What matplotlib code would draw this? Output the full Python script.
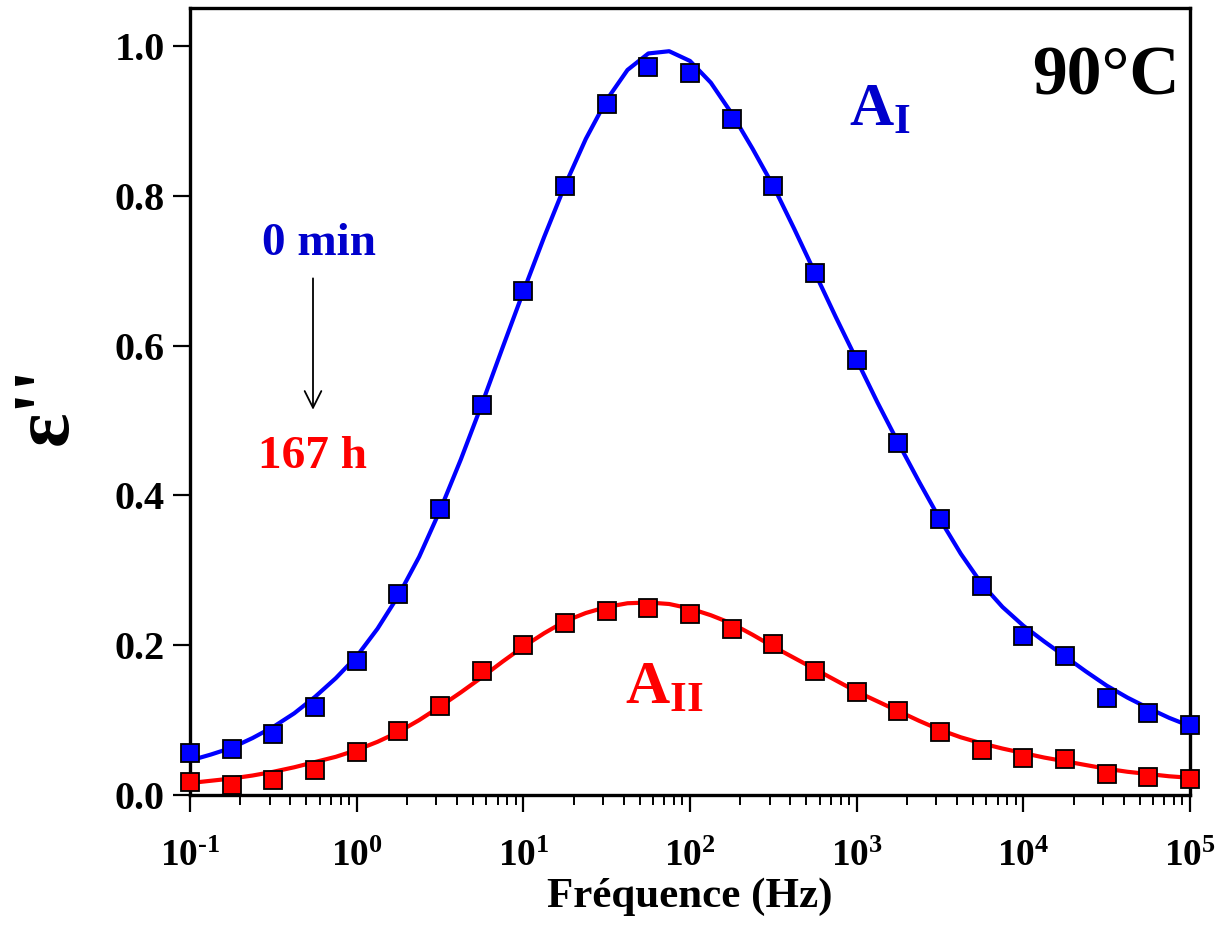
import numpy as np
import matplotlib
matplotlib.use("Agg")
import matplotlib.pyplot as plt

plt.rcParams['font.family'] = ['Liberation Serif', 'DejaVu Serif']
plt.rcParams['font.weight'] = 'bold'
plt.rcParams['mathtext.fontset'] = 'custom'
plt.rcParams['mathtext.rm'] = 'Liberation Serif:bold'
plt.rcParams['mathtext.it'] = 'Liberation Serif:bold'
plt.rcParams['mathtext.bf'] = 'Liberation Serif:bold'

# ---- data: measured points (quarter-decade frequencies) ----
log_freq_pts = [-1.0, -0.75, -0.5, -0.25, 0.0, 0.25, 0.5, 0.75, 1.0, 1.25, 1.5, 1.75, 2.0,
                2.25, 2.5, 2.75, 3.0, 3.25, 3.5, 3.75, 4.0, 4.25, 4.5, 4.75, 5.0]
eps_0min = [0.056, 0.061, 0.081, 0.118, 0.179, 0.268, 0.382, 0.521, 0.673, 0.813, 0.923, 0.972, 0.964,
            0.903, 0.813, 0.697, 0.581, 0.470, 0.368, 0.279, 0.212, 0.186, 0.130, 0.110, 0.094]
eps_167h = [0.018, 0.013, 0.020, 0.033, 0.058, 0.086, 0.119, 0.165, 0.200, 0.229, 0.246, 0.250, 0.241,
            0.222, 0.202, 0.165, 0.137, 0.112, 0.084, 0.060, 0.049, 0.048, 0.028, 0.024, 0.022]

# ---- fitted curves (eighth-decade) ----
log_freq_fit = [-1.0, -0.875, -0.75, -0.625, -0.5, -0.375, -0.25, -0.125, 0.0, 0.125, 0.25, 0.375,
                0.5, 0.625, 0.75, 0.875, 1.0, 1.125, 1.25, 1.375, 1.5, 1.625, 1.75, 1.875,
                2.0, 2.125, 2.25, 2.375, 2.5, 2.625, 2.75, 2.875, 3.0, 3.125, 3.25, 3.375,
                3.5, 3.625, 3.75, 3.875, 4.0, 4.125, 4.25, 4.375, 4.5, 4.625, 4.75, 4.875, 5.0]
fit_0min = [0.046, 0.054, 0.063, 0.076, 0.091, 0.109, 0.131, 0.156, 0.185, 0.222, 0.266, 0.318,
            0.380, 0.448, 0.521, 0.597, 0.672, 0.745, 0.814, 0.876, 0.928, 0.968, 0.990, 0.993,
            0.980, 0.951, 0.910, 0.863, 0.813, 0.756, 0.697, 0.638, 0.581, 0.524, 0.470, 0.418,
            0.368, 0.322, 0.282, 0.251, 0.226, 0.205, 0.185, 0.165, 0.146, 0.130, 0.116, 0.103, 0.092]
fit_167h = [0.016, 0.019, 0.022, 0.026, 0.031, 0.037, 0.044, 0.051, 0.060, 0.071, 0.084, 0.100,
            0.118, 0.137, 0.157, 0.178, 0.198, 0.216, 0.232, 0.243, 0.251, 0.256, 0.257, 0.255,
            0.249, 0.240, 0.229, 0.214, 0.198, 0.183, 0.168, 0.153, 0.138, 0.125, 0.112, 0.099,
            0.087, 0.077, 0.069, 0.062, 0.056, 0.050, 0.045, 0.040, 0.035, 0.031, 0.028, 0.025, 0.023]

x_ticks_exp = [-1, 0, 1, 2, 3, 4, 5]
y_ticks = [0.0, 0.2, 0.4, 0.6, 0.8, 1.0]

freq_pts = 10.0 ** np.array(log_freq_pts)
freq_fit = 10.0 ** np.array(log_freq_fit)

fig = plt.figure(figsize=(12.26, 9.25), dpi=100)
ax = fig.add_axes([190/1226, 1-795/925, 1000/1226, (795-8)/925])

blue = '#0000FF'
red = '#FF0000'
ax.plot(freq_fit, fit_0min, color=blue, lw=3.0, solid_joinstyle='round', zorder=2)
ax.plot(freq_fit, fit_167h, color=red, lw=3.0, solid_joinstyle='round', zorder=2)
ax.plot(freq_pts, eps_0min, ls='none', marker='s', ms=12.5, mfc=blue, mec='black', mew=1.3,
        zorder=3, clip_on=False)
ax.plot(freq_pts, eps_167h, ls='none', marker='s', ms=12.5, mfc=red, mec='black', mew=1.3,
        zorder=3, clip_on=False)

ax.set_xscale('log')
ax.set_xlim(0.1, 1e5)
ax.set_ylim(0.0, 1.0507)

def exp_label(e):
    if e < 0:
        return r'$10^{\text{-}%d}$' % (-e)
    return r'$10^{%d}$' % e

ax.set_xticks([10.0 ** e for e in x_ticks_exp])
ax.set_xticklabels([exp_label(e) for e in x_ticks_exp])
ax.xaxis.set_minor_locator(matplotlib.ticker.LogLocator(base=10, subs=np.arange(2, 10), numticks=20))
ax.xaxis.set_minor_formatter(matplotlib.ticker.NullFormatter())
ax.set_yticks(y_ticks)
ax.set_yticklabels(['%.1f' % v for v in y_ticks])

for s in ax.spines.values():
    s.set_linewidth(2.4)
ax.tick_params(axis='both', which='major', direction='out', length=12, width=1.6, labelsize=29)
ax.tick_params(axis='x', which='minor', direction='out', length=7, width=1.4)
ax.tick_params(axis='x', which='major', pad=20, labelsize=27)
ax.tick_params(axis='y', which='major', pad=6)
ax.tick_params(top=False, right=False, which='both')

ax.set_xlabel('Fréquence (Hz)', fontsize=31, fontweight='bold', labelpad=2)

fig.text(47/1226, 1-405/925, "ε''", rotation=90, fontsize=58, fontweight='bold',
         ha='center', va='center')

ax.text(0.99, 0.952, '90°C', transform=ax.transAxes, fontsize=50, fontweight='bold',
        ha='right', va='top', color='black')
ax.text(0.659, 0.87, r'$\mathrm{A}_{\mathrm{I}}$', transform=ax.transAxes, fontsize=44,
        ha='left', va='center', color='#0000CC')
ax.text(0.435, 0.135, r'$\mathrm{A}_{\mathrm{II}}$', transform=ax.transAxes, fontsize=44,
        ha='left', va='center', color='#FF0000')
ax.text(0.129, 0.7, '0 min', transform=ax.transAxes, fontsize=34, fontweight='bold',
        ha='center', va='center', color='#0000CC')
ax.text(0.123, 0.43, '167 h', transform=ax.transAxes, fontsize=34, fontweight='bold',
        ha='center', va='center', color='#FF0000')
ax.annotate('', xy=(0.123, 0.486), xytext=(0.123, 0.66), xycoords='axes fraction',
            arrowprops=dict(arrowstyle='->', color='black', lw=1.3, mutation_scale=30))

fig.savefig('out.png', dpi=100)
